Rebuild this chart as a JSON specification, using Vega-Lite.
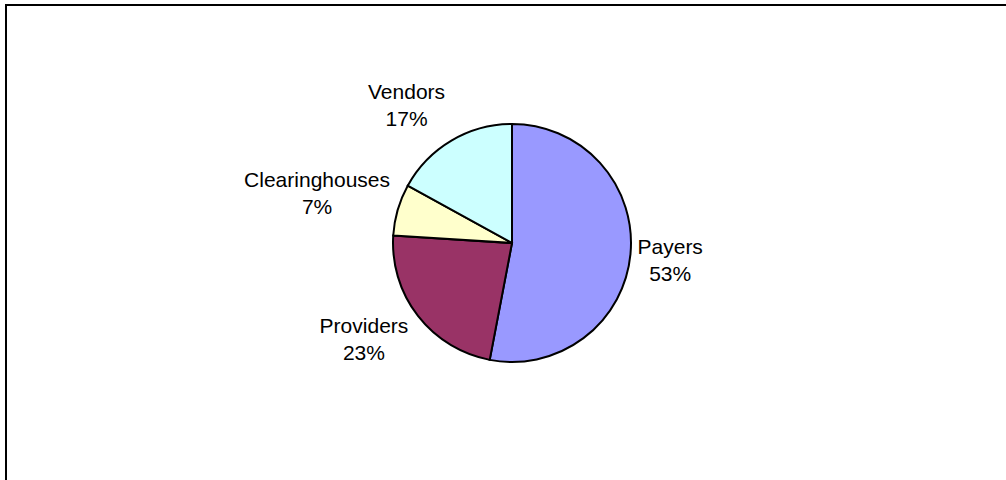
{
  "$schema": "https://vega.github.io/schema/vega-lite/v6.json",
  "width": 1012,
  "height": 476,
  "autosize": {"type": "none"},
  "padding": {"left": 6, "top": 5, "right": 0, "bottom": 0},
  "background": "white",
  "view": {"stroke": "black", "strokeWidth": 2, "fill": "white"},
  "config": {"view": {"stroke": "black", "strokeWidth": 2}, "font": "Liberation Sans"},
  "data": {
    "values": [
      {"category": "Payers", "share": 0.53, "order": 1},
      {"category": "Providers", "share": 0.23, "order": 2},
      {"category": "Clearinghouses", "share": 0.07, "order": 3},
      {"category": "Vendors", "share": 0.17, "order": 4}
    ]
  },
  "encoding": {
    "theta": {"field": "share", "type": "quantitative", "stack": true},
    "order": {"field": "order", "type": "quantitative"}
  },
  "layer": [
    {
      "mark": {"type": "arc", "outerRadius": 119, "stroke": "black", "strokeWidth": 2},
      "encoding": {
        "color": {
          "field": "category",
          "type": "nominal",
          "scale": {
            "domain": ["Payers", "Providers", "Clearinghouses", "Vendors"],
            "range": ["#9999FF", "#993366", "#FFFFCC", "#CCFFFF"]
          },
          "legend": null
        }
      }
    },
    {
      "mark": {"type": "text", "font": "Liberation Sans", "fontSize": 21, "color": "black", "align": "center", "baseline": "alphabetic", "dx": -24, "dy": -6.7},
      "encoding": {
        "text": {"field": "category", "type": "nominal"},
        "radius": {
          "field": "share",
          "type": "quantitative",
          "scale": {"type": "linear", "domain": [0.07, 0.17, 0.23, 0.53], "range": [178, 160, 157, 183], "zero": false, "nice": false}
        }
      }
    },
    {
      "mark": {"type": "text", "font": "Liberation Sans", "fontSize": 21, "color": "black", "align": "center", "baseline": "alphabetic", "dx": -24, "dy": 20.3},
      "encoding": {
        "text": {"field": "share", "type": "quantitative", "format": ".0%"},
        "radius": {
          "field": "share",
          "type": "quantitative",
          "scale": {"type": "linear", "domain": [0.07, 0.17, 0.23, 0.53], "range": [178, 160, 157, 183], "zero": false, "nice": false}
        }
      }
    }
  ]
}
